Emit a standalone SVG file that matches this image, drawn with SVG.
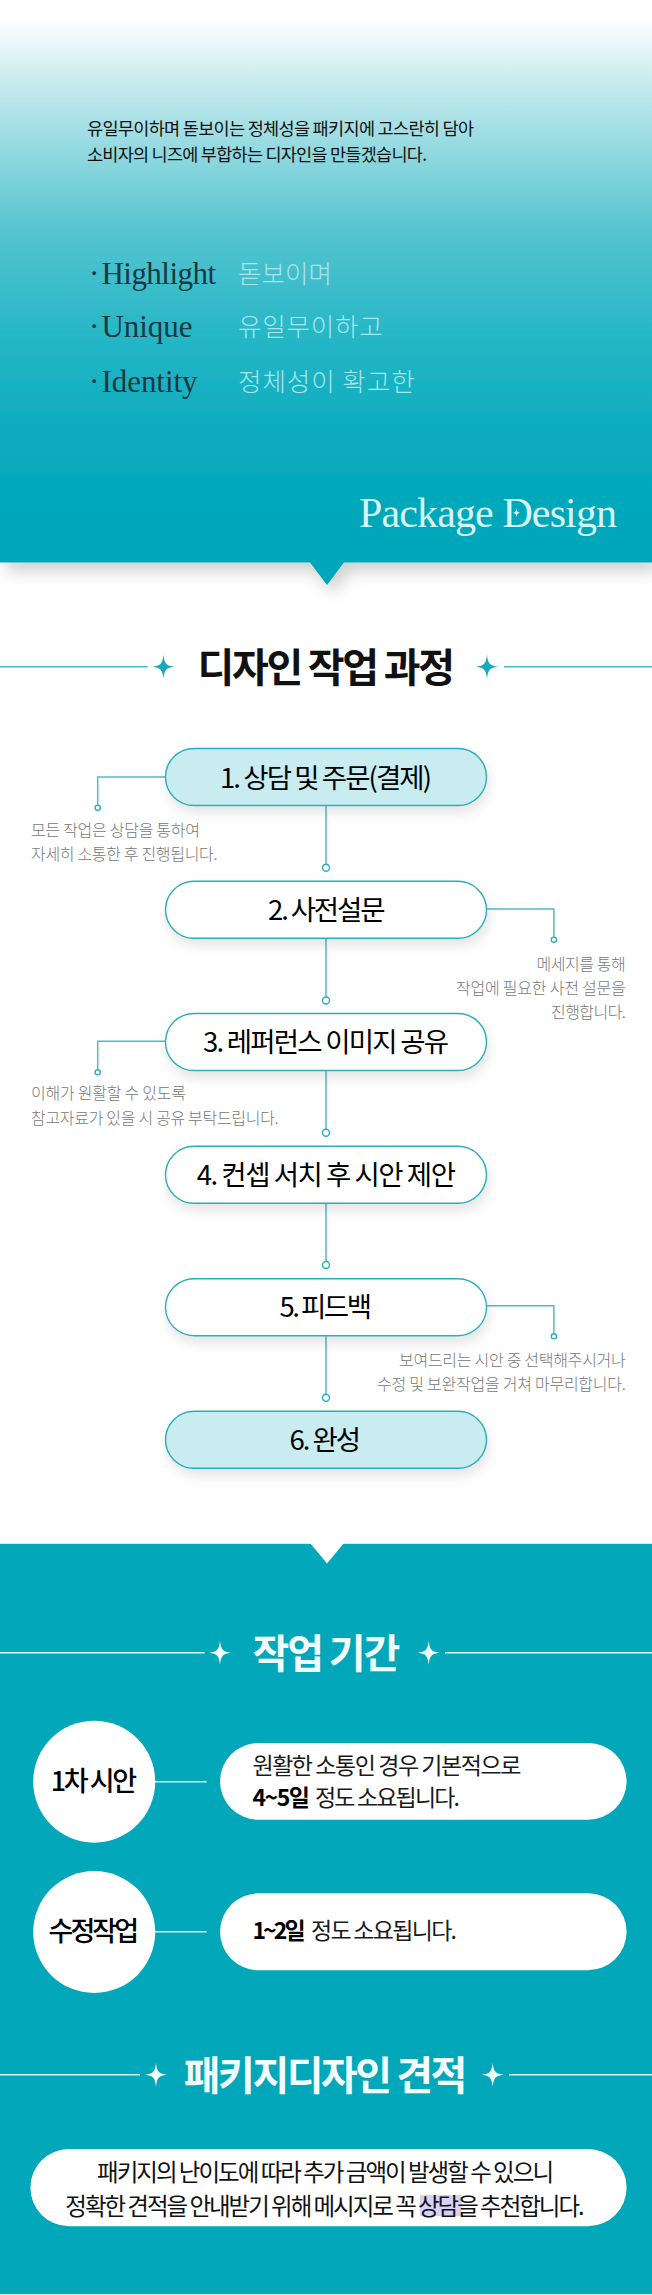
<svg xmlns="http://www.w3.org/2000/svg" width="652" height="2295" viewBox="0 0 652 2295">
<style>
text{font-family:"Noto Sans CJK KR","Noto Sans",sans-serif;fill:#111}
.sf{font-family:"Liberation Serif",serif;font-size:31px;fill:#1a3840}
.ko{font-size:25.5px;fill:#a6e6ea;font-weight:300}
.intro{font-size:17.5px;fill:#111}
.h{font-size:40px;font-weight:700}
.hw{font-size:40px;font-weight:700;fill:#f2fcfc}
.n{font-size:27.5px;font-weight:400;fill:#000}
.cap{font-size:16px;font-weight:300;fill:#777}
.pillt{font-size:23px;font-weight:400;fill:#1a1a1a}
.b{font-weight:700;fill:#000}
.circ{font-size:27px;font-weight:500;fill:#000}
.est{font-size:23.5px;font-weight:400;fill:#111}
.node{stroke:#2aaebd;stroke-width:1.4;filter:url(#sh)}
.w{fill:#fff}.m{fill:#c8ecf0}
.con{fill:none;stroke:#4fbcc9;stroke-width:1.5}
.dot{fill:#fff;stroke:#2aaebd;stroke-width:1.4}
.tl{stroke:#45b9c6;stroke-width:1.5}
.tlw{stroke:#d5f5f6;stroke-width:1.5}
</style>
<defs>
<linearGradient id="g" gradientUnits="userSpaceOnUse" x1="0" y1="0" x2="0" y2="563">
<stop offset="0.03" stop-color="#fff"/>
<stop offset="0.18" stop-color="#b8e6ea"/>
<stop offset="0.41" stop-color="#55c4d0"/>
<stop offset="0.6" stop-color="#25b6c6"/>
<stop offset="0.74" stop-color="#10aec0"/>
<stop offset="0.86" stop-color="#05a8bb"/>
<stop offset="1" stop-color="#02a6b9"/>
</linearGradient>
<filter id="sh" x="-10%" y="-30%" width="120%" height="180%"><feDropShadow dx="2" dy="7" stdDeviation="6" flood-color="#000" flood-opacity=".1"/></filter>
<filter id="bs" x="-5%" y="-5%" width="110%" height="115%"><feDropShadow dx="6" dy="9" stdDeviation="8" flood-color="#000" flood-opacity=".18"/></filter>
<path id="star" d="M0-12C.9-3 3-.9 11 0C3 .9 .9 3 0 12C-.9 3-3 .9-11 0C-3-.9-.9-3 0-12Z"/>
</defs>
<rect width="652" height="2295" fill="#fff"/>

<g id="hero">
<path d="M0 0H652V562.6H344L327 585L310 562.6H0Z" fill="url(#g)" filter="url(#bs)"/>
<text class="intro" x="87" y="135" textLength="387">유일무이하며 돋보이는 정체성을 패키지에 고스란히 담아</text>
<text class="intro" x="87" y="161" textLength="340">소비자의 니즈에 부합하는 디자인을 만들겠습니다.</text>
<text class="sf"><tspan x="89" y="284">·</tspan><tspan x="101.5" y="284" textLength="114.5">Highlight</tspan></text>
<text class="ko" x="238" y="283" textLength="94">돋보이며</text>
<text class="sf"><tspan x="89" y="337">·</tspan><tspan x="101.5" y="337" textLength="91">Unique</tspan></text>
<text class="ko" x="238" y="335.5" textLength="144.6">유일무이하고</text>
<text class="sf"><tspan x="89" y="392">·</tspan><tspan x="101.5" y="392" textLength="96">Identity</tspan></text>
<text class="ko" x="238" y="390.5" textLength="176.6">정체성이 확고한</text>
<text x="359" y="527" textLength="258" style="font-family:'Liberation Serif',serif;font-size:42px;fill:#d6f6f6">Package Design</text>
<use href="#star" transform="translate(516.5 512.8) scale(.4)" fill="#d6f6f6"/>
</g>

<g id="title-process">
<line class="tl" x1="0" y1="666.7" x2="147.6" y2="666.7"/>
<use href="#star" x="163.4" y="666.7" fill="#15a9b9"/>
<text class="h" x="197.5" y="682" textLength="257.5">디자인 작업 과정</text>
<use href="#star" x="487" y="666.7" fill="#15a9b9"/>
<line class="tl" x1="504" y1="666.7" x2="652" y2="666.7"/>
</g>

<g id="connectors">
<path class="con" d="M326 805.7V864.2M326 938.3V997M326 1070.3V1129.2M326 1203.3V1261.5M326 1335.7V1394.2"/>
<path class="con" d="M165.5 777H97.7V805"/>
<path class="con" d="M486.5 909H553.9V937"/>
<path class="con" d="M165.5 1041.3H97.7V1069.5"/>
<path class="con" d="M486.5 1305.7H553.9V1333.5"/>
<circle class="dot" cx="326" cy="867.7" r="3.5"/>
<circle class="dot" cx="326" cy="1000.5" r="3.5"/>
<circle class="dot" cx="326" cy="1132.7" r="3.5"/>
<circle class="dot" cx="326" cy="1265" r="3.5"/>
<circle class="dot" cx="326" cy="1397.7" r="3.5"/>
<circle class="dot" cx="97.7" cy="807.7" r="2.6"/>
<circle class="dot" cx="553.9" cy="939.7" r="2.6"/>
<circle class="dot" cx="97.7" cy="1072.3" r="2.6"/>
<circle class="dot" cx="553.9" cy="1336.3" r="2.6"/>
</g>

<g id="step-1"><rect class="node m" x="165.5" y="748.5" width="321" height="57" rx="28.5"/>
<text class="n" x="220" y="787.5" textLength="212">1. 상담 및 주문(결제)</text></g>
<g id="note-1"><text class="cap" x="31" y="835.5" textLength="169">모든 작업은 상담을 통하여</text>
<text class="cap" x="31" y="859.5" textLength="186.5">자세히 소통한 후 진행됩니다.</text></g>

<g id="step-2"><rect class="node w" x="165.5" y="881.3" width="321" height="57" rx="28.5"/>
<text class="n" x="268" y="919.5" textLength="117.5">2. 사전설문</text></g>
<g id="note-2"><text class="cap" x="536.4" y="969.5" textLength="89.4">메세지를 통해</text>
<text class="cap" x="456" y="993.5" textLength="169.8">작업에 필요한 사전 설문을</text>
<text class="cap" x="551" y="1017.5" textLength="74.8">진행합니다.</text></g>

<g id="step-3"><rect class="node w" x="165.5" y="1013.5" width="321" height="57" rx="28.5"/>
<text class="n" x="203" y="1052" textLength="246">3. 레퍼런스 이미지 공유</text></g>
<g id="note-3"><text class="cap" x="31" y="1099" textLength="155">이해가 원활할 수 있도록</text>
<text class="cap" x="31" y="1123.5" textLength="247.6">참고자료가 있을 시 공유 부탁드립니다.</text></g>

<g id="step-4"><rect class="node w" x="165.5" y="1146.3" width="321" height="57" rx="28.5"/>
<text class="n" x="196.7" y="1185" textLength="259.3">4. 컨셉 서치 후 시안 제안</text></g>

<g id="step-5"><rect class="node w" x="165.5" y="1278.7" width="321" height="57" rx="28.5"/>
<text class="n" x="279.4" y="1317" textLength="92.6">5. 피드백</text></g>
<g id="note-5"><text class="cap" x="399" y="1365.5" textLength="226.8">보여드리는 시안 중 선택해주시거나</text>
<text class="cap" x="377" y="1389.5" textLength="248.8">수정 및 보완작업을 거쳐 마무리합니다.</text></g>

<g id="step-6"><rect class="node m" x="165.5" y="1411.3" width="321" height="57" rx="28.5"/>
<text class="n" x="289.4" y="1450" textLength="71.6">6. 완성</text></g>

<g id="lower">
<rect x="0" y="1543.5" width="652" height="750.5" fill="#02a7b9"/>
<line x1="0" y1="1543.5" x2="652" y2="1543.5" stroke="#cfeef2" stroke-width="1"/>
<line x1="0" y1="2294.5" x2="652" y2="2294.5" stroke="#cfeef2" stroke-width="1"/>
<path d="M310 1543H344L327 1563.5Z" fill="#fff"/>
</g>

<g id="title-period">
<line class="tlw" x1="0" y1="1652.7" x2="204.6" y2="1652.7"/>
<use href="#star" x="220" y="1652.7" fill="#f2fcfc"/>
<text class="hw" x="252.4" y="1668" textLength="148">작업 기간</text>
<use href="#star" x="428.7" y="1652.7" fill="#f2fcfc"/>
<line class="tlw" x1="445" y1="1652.7" x2="652" y2="1652.7"/>
</g>

<g id="period-connectors">
<line class="tlw" x1="155" y1="1781.7" x2="206.7" y2="1781.7"/>
<line class="tlw" x1="155" y1="1931.7" x2="206.7" y2="1931.7"/>
</g>

<g id="period-1"><circle cx="94.2" cy="1781.7" r="61" fill="#fff"/>
<text class="circ" x="50.7" y="1791" textLength="86.3">1차 시안</text></g>
<g id="period-1-text"><rect x="220" y="1743" width="406.6" height="76.7" rx="38.3" fill="#fff"/>
<text class="pillt" x="252.4" y="1774" textLength="269">원활한 소통인 경우 기본적으로</text>
<text class="pillt" y="1805.7"><tspan class="b" x="252.4" textLength="57.6">4~5일</tspan><tspan x="315" textLength="145">정도 소요됩니다.</tspan></text></g>

<g id="period-2"><circle cx="94.2" cy="1932" r="61" fill="#fff"/>
<text class="circ" x="48.6" y="1941" textLength="90.4">수정작업</text></g>
<g id="period-2-text"><rect x="220" y="1893.3" width="406.6" height="77" rx="38.5" fill="#fff"/>
<text class="pillt" y="1938.7"><tspan class="b" x="252.4" textLength="53.2">1~2일</tspan><tspan x="311" textLength="146">정도 소요됩니다.</tspan></text></g>

<g id="title-estimate">
<line class="tlw" x1="0" y1="2074.7" x2="140" y2="2074.7"/>
<use href="#star" x="156" y="2074.7" fill="#f2fcfc"/>
<text class="hw" x="183.8" y="2090" textLength="283.6">패키지디자인 견적</text>
<use href="#star" x="492.7" y="2074.7" fill="#f2fcfc"/>
<line class="tlw" x1="509" y1="2074.7" x2="652" y2="2074.7"/>
</g>

<g id="estimate">
<rect x="30.4" y="2149" width="596.2" height="77.3" rx="38.6" fill="#fff"/>
<rect x="420" y="2195" width="41.5" height="21" fill="#d6d1f6"/>
<text class="est" x="97" y="2181" textLength="457">패키지의 난이도에 따라 추가 금액이 발생할 수 있으니</text>
<text class="est" x="65.3" y="2214.5" textLength="519.3">정확한 견적을 안내받기 위해 메시지로 꼭 상담을 추천합니다.</text>
</g>
</svg>
